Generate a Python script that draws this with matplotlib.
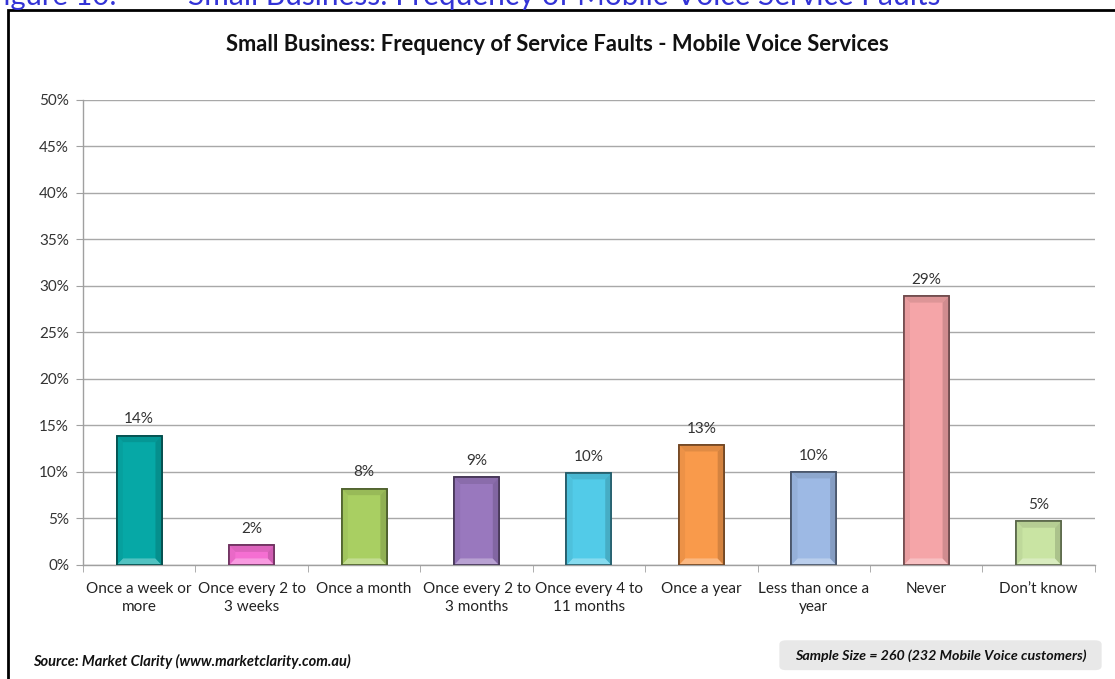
import numpy as np
import matplotlib.pyplot as plt
from matplotlib.patches import Polygon, Rectangle, FancyBboxPatch
from matplotlib.colors import to_rgb

plt.rcParams['font.family'] = ['Lato', 'DejaVu Sans']

categories = ["Once a week or\nmore", "Once every 2 to\n3 weeks", "Once a month",
              "Once every 2 to\n3 months", "Once every 4 to\n11 months", "Once a year",
              "Less than once a\nyear", "Never", "Don\u2019t know"]
values = [13.9, 2.1, 8.2, 9.4, 9.9, 12.9, 10.0, 28.9, 4.7]
colors = ["#06A8A6", "#F56FD2", "#A9CF62", "#9978BE", "#52CBE8",
          "#F99A4B", "#9DB9E4", "#F5A5A8", "#C9E4A3"]
yticks = [0, 5, 10, 15, 20, 25, 30, 35, 40, 45, 50]


def shade(c, f):
    r, g, b = to_rgb(c)
    if f < 1:
        return (r * f, g * f, b * f)
    f = f - 1
    return (r + (1 - r) * f, g + (1 - g) * f, b + (1 - b) * f)


fig = plt.figure(figsize=(11.15, 6.79), dpi=100)
ax = fig.add_axes([0.0744, 0.168, 0.9076, 0.685])

x = np.arange(len(categories))
bw = 0.4
bars = ax.bar(x, values, width=bw, color=colors, edgecolor=[shade(c, 0.45) for c in colors],
              linewidth=1.2, zorder=3)

# bevel effect
bx, by = 0.055, 0.7
for b, c in zip(bars, colors):
    x0, x1 = b.get_x(), b.get_x() + b.get_width()
    h = b.get_height()
    top = Polygon([[x0, h], [x1, h], [x1 - bx, h - by], [x0 + bx, h - by]],
                  closed=True, fc=shade(c, 0.9), ec='none', zorder=4)
    bot = Polygon([[x0, 0], [x1, 0], [x1 - bx, by], [x0 + bx, by]],
                  closed=True, fc=shade(c, 1.3), ec='none', zorder=4)
    left = Polygon([[x0, 0], [x0 + bx, by], [x0 + bx, h - by], [x0, h]],
                   closed=True, fc=shade(c, 0.95), ec='none', zorder=4)
    right = Polygon([[x1, 0], [x1 - bx, by], [x1 - bx, h - by], [x1, h]],
                    closed=True, fc=shade(c, 0.85), ec='none', zorder=4)
    for p in (top, bot, left, right):
        ax.add_patch(p)
    ax.add_patch(Rectangle((x0, 0), x1 - x0, h, fill=False,
                           ec=shade(c, 0.45), lw=1.2, zorder=5))
    ax.text(b.get_x() + b.get_width() / 2, h + 1.0, f"{round(h)}%",
            ha='center', va='bottom', fontsize=11, color='#333333')

ax.set_xlim(-0.5, len(categories) - 0.5)
ax.set_ylim(0, 50)
ax.set_yticks(yticks)
ax.set_yticklabels([f"{t}%" for t in yticks], fontsize=11, color='#333333')
ax.set_xticks(x)
ax.set_xticklabels(categories, fontsize=11, color='#222222', linespacing=1.4)
ax.set_xticks(np.arange(len(categories) + 1) - 0.5, minor=True)
ax.tick_params(axis='x', which='major', length=0, pad=12)
ax.tick_params(axis='x', which='minor', length=5, color='#A0A0A0', direction='out')
ax.tick_params(axis='y', length=5, color='#A0A0A0', pad=5)
ax.grid(axis='y', color='#A8A8A8', lw=1, zorder=0)
for s in ('top', 'right'):
    ax.spines[s].set_visible(False)
for s in ('left', 'bottom'):
    ax.spines[s].set_color('#A0A0A0')
    ax.spines[s].set_linewidth(1)

fig.patches.append(Rectangle((0.0072, -0.05), 1.2, 1.035, transform=fig.transFigure,
                             fill=False, ec='black', lw=2))

# caption above the chart box, cut by the top edge as in the source page
fig.text(-0.012, 0.993, "Figure 10:", fontsize=21, color='#3333D6', ha='left', va='baseline')
fig.text(0.169, 0.993, "Small Business: Frequency of Mobile Voice Service Faults",
         fontsize=21.5, color='#3333D6', ha='left', va='baseline')
fig.text(0.5, 0.935, "Small Business: Frequency of Service Faults - Mobile Voice Services",
         fontsize=15.8, fontweight='bold', ha='center', va='center', color='#111111')
fig.text(0.0296, 0.026, "Source: Market Clarity (www.marketclarity.com.au)",
         fontsize=10.5, fontweight='bold', style='italic', ha='left', va='center', color='#111111')

fig.patches.append(FancyBboxPatch((0.699, 0.013), 0.289, 0.044, transform=fig.transFigure,
                                  boxstyle='round,pad=0,rounding_size=0.006',
                                  fc='#E8E8E8', ec='none'))
fig.text(0.8435, 0.035, "Sample Size = 260 (232 Mobile Voice customers)",
         fontsize=10.3, fontweight='bold', style='italic', ha='center', va='center', color='#111111')

fig.savefig("out.png", dpi=100)
